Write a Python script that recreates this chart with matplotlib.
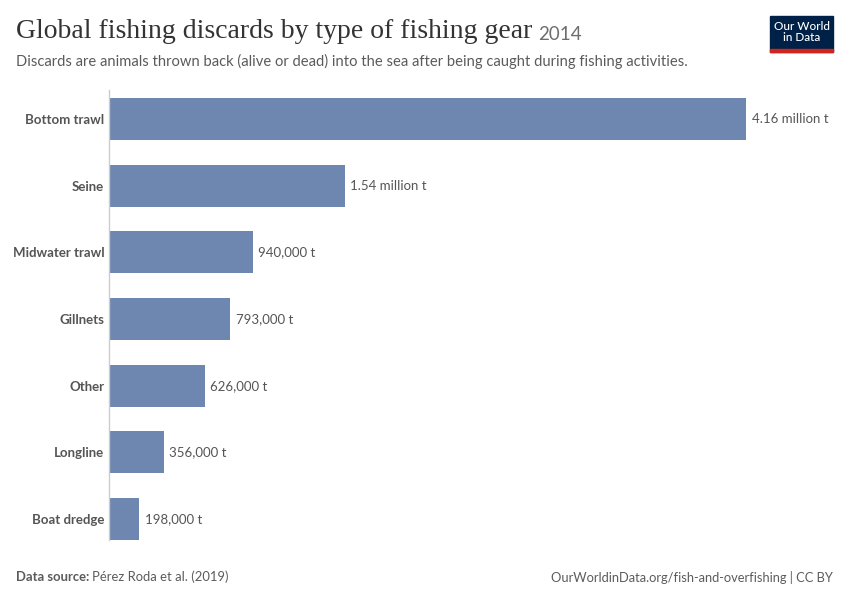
import matplotlib.pyplot as plt
from matplotlib.patches import Rectangle

# Data
gears = ["Bottom trawl", "Seine", "Midwater trawl", "Gillnets", "Other", "Longline", "Boat dredge"]
discards = [4160000, 1540000, 940000, 793000, 626000, 356000, 198000]
value_labels = ["4.16 million t", "1.54 million t", "940,000 t", "793,000 t",
                "626,000 t", "356,000 t", "198,000 t"]

W, H = 850, 600
fig = plt.figure(figsize=(W / 100, H / 100), dpi=100)
fig.patch.set_facecolor("white")

# axes placed in pixel coords: x 109..746, y 90..540
ax = fig.add_axes([109 / W, 1 - 540 / H, (746 - 109) / W, (540 - 90) / H])
pos = list(range(len(gears)))
ax.barh(pos, discards, height=0.63, color="#6D87B0")
ax.set_xlim(0, discards[0])
ax.set_ylim(6.315, -0.435)
ax.set_yticks(pos)
ax.set_yticklabels(gears, fontfamily="Lato", fontweight="bold", fontsize=9.5, color="#555555")
ax.tick_params(axis="y", length=0, pad=3.5)
ax.set_xticks([])
for s in ["top", "right", "bottom"]:
    ax.spines[s].set_visible(False)
ax.spines["left"].set_color("#cccccc")
ax.spines["left"].set_linewidth(1)

for p, v, lab in zip(pos, discards, value_labels):
    ax.annotate(lab, (v, p), xytext=(4, 0), textcoords="offset points",
                va="center", ha="left", fontfamily="Lato", fontsize=9.5,
                color="#555555", annotation_clip=False)

# title + subtitle
t = fig.text(16 / W, 1 - 32 / H, "Global fishing discards by type of fishing gear",
             fontfamily="Liberation Serif", fontsize=20, color="#333333", va="center")
fig.canvas.draw()
bb = t.get_window_extent()
fig.text(bb.x1 / W + 6 / W, 1 - 34 / H, "2014", fontfamily="Lato", fontsize=13.5,
         color="#6e6e6e", va="center")
fig.text(16 / W, 1 - 61 / H,
         "Discards are animals thrown back (alive or dead) into the sea after being caught during fishing activities.",
         fontfamily="Lato", fontsize=10.65, color="#5b5b5b", va="center")

# logo
fig.patches.append(Rectangle((770 / W, 1 - 52 / H), 63 / W, 36 / H,
                             transform=fig.transFigure, color="#002147"))
fig.patches.append(Rectangle((770 / W, 1 - 52 / H), 63 / W, 3 / H,
                             transform=fig.transFigure, color="#CE261E"))
fig.text(801.5 / W, 1 - 32 / H, "Our World\nin Data", fontfamily="Lato",
         fontsize=8.5, fontweight="medium", color="white", ha="center", va="center",
         linespacing=1.0)

# footer
src = fig.text(16 / W, 1 - 577 / H, "Data source:", fontfamily="Lato", fontweight="bold",
               fontsize=9.4, color="#5b5b5b", va="center")
fig.canvas.draw()
sb = src.get_window_extent()
fig.text((sb.x1 + 3) / W, 1 - 577 / H, "Pérez Roda et al. (2019)", fontfamily="Lato",
         fontsize=9.4, color="#5b5b5b", va="center")
fig.text(833 / W, 1 - 577 / H, "OurWorldinData.org/fish-and-overfishing | CC BY",
         fontfamily="Lato", fontsize=9.3, color="#5b5b5b", va="center", ha="right")

fig.savefig("out.png", dpi=100)
